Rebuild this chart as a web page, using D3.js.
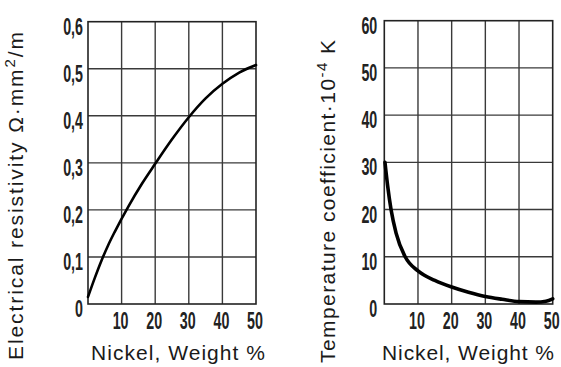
<!DOCTYPE html>
<html>
<head>
<meta charset="utf-8">
<script src="https://cdn.jsdelivr.net/npm/d3@7"></script>
<style>
  body { margin: 0; background: #fff; }
  svg { display: block; }
  .tick-label { font-family: "Liberation Sans", Arial, sans-serif; font-size: 23px; font-weight: bold; fill: #222; }
  .title { font-family: "Liberation Sans", Arial, sans-serif; font-size: 21px; fill: #1a1a1a; }
</style>
</head>
<body>
<svg id="chart" width="561" height="367"></svg>
<script>
// x ticks shared by both panels (weight % nickel)
var xTicks = [0, 10, 20, 30, 40, 50];
var xTickLabels = ["", "10", "20", "30", "40", "50"];

// left panel: electrical resistivity
var resTicks = [0, 0.1, 0.2, 0.3, 0.4, 0.5, 0.6];
var resTickLabels = ["0", "0,1", "0,2", "0,3", "0,4", "0,5", "0,6"];
var resNickel = [0, 2, 4, 6, 8, 12, 16, 20, 25, 30, 35, 40, 45, 50];
var resValue = [0.015, 0.055, 0.092, 0.125, 0.154, 0.207, 0.255, 0.298, 0.35, 0.397, 0.437, 0.468, 0.492, 0.508];

// right panel: temperature coefficient
var tcTicks = [0, 10, 20, 30, 40, 50, 60];
var tcTickLabels = ["0", "10", "20", "30", "40", "50", "60"];
var tcNickel = [0.2, 1, 2, 3.5, 6.2, 10, 15, 20, 25, 30, 35, 40, 45, 48, 50];
var tcValue = [30, 25, 20, 15, 10, 7, 5, 3.6, 2.5, 1.6, 1.0, 0.5, 0.4, 0.6, 1.1];

var svg = d3.select('#chart');

// Draw one panel: frame, grid, labels and curve
function drawPanel(p) {
	var g = svg.append('g');

	var x = d3.scaleLinear().domain([0, 50]).range([p.left, p.right]);
	var y = d3.scaleLinear().domain([0, p.yMax]).range([p.bottom, p.top]);

	// vertical grid lines
	g.selectAll('.vgrid')
		.data(xTicks.slice(1, -1))
		.enter().append('line')
		.attr('x1', function(d) { return x(d); })
		.attr('x2', function(d) { return x(d); })
		.attr('y1', y(0))
		.attr('y2', y(p.yMax))
		.attr('stroke', '#3a3a3a')
		.attr('stroke-width', 1.4);

	// horizontal grid lines
	g.selectAll('.hgrid')
		.data(p.yTicks.slice(1, -1))
		.enter().append('line')
		.attr('x1', x(0))
		.attr('x2', x(50))
		.attr('y1', function(d) { return y(d); })
		.attr('y2', function(d) { return y(d); })
		.attr('stroke', '#3a3a3a')
		.attr('stroke-width', 1.4);

	// frame
	g.append('rect')
		.attr('x', x(0))
		.attr('y', y(p.yMax))
		.attr('width', x(50) - x(0))
		.attr('height', y(0) - y(p.yMax))
		.attr('fill', 'none')
		.attr('stroke', '#222')
		.attr('stroke-width', 1.6);

	// y tick labels (condensed by scaling)
	g.selectAll('.ylab')
		.data(p.yTicks)
		.enter().append('text')
		.attr('class', 'tick-label')
		.attr('text-anchor', 'end')
		.attr('transform', function(d) {
			return 'translate(' + (x(0) - p.yLabelGap) + ',' + (y(d) + 13) + ') scale(0.62,1)';
		})
		.text(function(d, i) { return p.yTickLabels[i]; });

	// x tick labels
	g.selectAll('.xlab')
		.data(xTicks)
		.enter().append('text')
		.attr('class', 'tick-label')
		.attr('text-anchor', 'middle')
		.attr('transform', function(d) {
			return 'translate(' + (x(d) - 1) + ',329) scale(0.62,1)';
		})
		.text(function(d, i) { return xTickLabels[i]; });

	// curve
	var pts = p.xs.map(function(d, i) { return [d, p.ys[i]]; });
	var line = d3.line()
		.x(function(d) { return x(d[0]); })
		.y(function(d) { return y(d[1]); })
		.curve(d3.curveMonotoneX);
	g.append('path')
		.attr('d', line(pts))
		.attr('fill', 'none')
		.attr('stroke', '#000')
		.attr('stroke-width', p.curveWidth)
		.attr('stroke-linecap', 'round');

	// x title
	g.append('text')
		.attr('class', 'title')
		.attr('x', p.xTitleX)
		.attr('y', 360)
		.attr('textLength', p.xTitleLen)
		.attr('lengthAdjust', 'spacing')
		.text('Nickel, Weight %');

	// y title (rotated)
	var yt = g.append('text')
		.attr('class', 'title')
		.attr('transform', 'translate(' + p.yTitleX + ',' + p.yTitleBottom + ') rotate(-90)')
		.attr('textLength', p.yTitleLen)
		.attr('lengthAdjust', 'spacing');
	yt.append('tspan').text(p.yTitle[0]);
	yt.append('tspan').attr('dy', -8).attr('font-size', 15).text(p.yTitle[1]);
	yt.append('tspan').attr('dy', 8).text(p.yTitle[2]);
}

drawPanel({
	left: 88, right: 256, top: 21.7, bottom: 304,
	yMax: 0.6, yTicks: resTicks, yTickLabels: resTickLabels, yLabelGap: 5,
	xs: resNickel, ys: resValue, curveWidth: 2.6,
	xTitleX: 91, xTitleLen: 174,
	yTitleX: 23, yTitleBottom: 360, yTitleLen: 328,
	yTitle: ['Electrical resistivity  \u03A9\u00B7mm', '2', '/m']
});

drawPanel({
	left: 384.3, right: 552.7, top: 20.7, bottom: 304,
	yMax: 60, yTicks: tcTicks, yTickLabels: tcTickLabels, yLabelGap: 7,
	xs: tcNickel, ys: tcValue, curveWidth: 3.6,
	xTitleX: 382, xTitleLen: 172,
	yTitleX: 335, yTitleBottom: 363, yTitleLen: 323,
	yTitle: ['Temperature coefficient\u00B710', '-4', ' K']
});
</script>
</body>
</html>
